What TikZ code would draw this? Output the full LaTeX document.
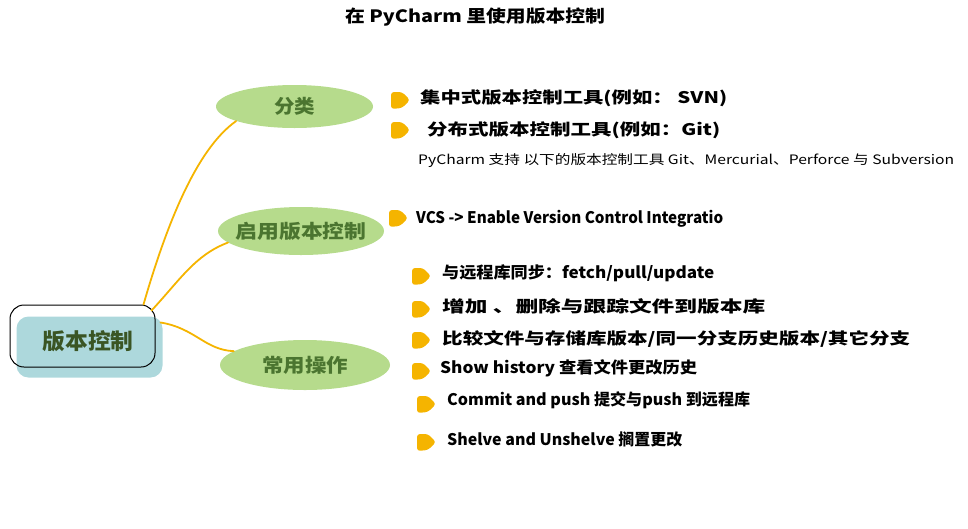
\documentclass[tikz,border=0pt]{standalone}
\usepackage{fontspec}
\usepackage{graphicx}
\setmainfont{Noto Sans CJK SC}
\usetikzlibrary{shapes.geometric,calc,backgrounds}
\definecolor{connorange}{HTML}{F5B400}
\definecolor{leafgreen}{HTML}{B6DB8C}
\definecolor{rootblue}{HTML}{ADD8DC}
\definecolor{branchtext}{HTML}{4B7530}
\definecolor{roottextc}{HTML}{3A5524}
\newcommand\fitw[2]{\resizebox{#1}{\height}{#2}}
\newcommand\nowidth[1]{\makebox[0pt]{#1}}
\tikzset{
  titletxt/.style={font=\bfseries\fontsize{17}{20}\selectfont, inner sep=0pt},
  rootframe/.style={draw=black, line width=1pt, rounded corners=14pt, minimum width=145pt, minimum height=62pt, inner sep=0pt},
  roottxt/.style={font=\bfseries\fontsize{22}{26}\selectfont, text=roottextc, inner sep=0pt},
  branch/.style={ellipse, fill=leafgreen, inner sep=0pt, text=branchtext, font=\bfseries\fontsize{19}{22}\selectfont},
  conn/.style={draw=connorange, line width=1.8pt, line cap=round},
  itemtxt/.style={anchor=west, inner sep=0pt, font=\bfseries\fontsize{16}{19}\selectfont},
  smalltxt/.style={anchor=west, inner sep=0pt, font=\fontsize{13}{15}\selectfont},
  bulletmark/.pic={\fill[connorange, rounded corners=3pt] (-9,-8) -- (2,-8) -- (10,0) -- (2,8) -- (-9,9) -- cycle;}
}
\begin{document}
\begin{tikzpicture}[x=1pt,y=-1pt]
\useasboundingbox (0,0) rectangle (968,528);
% title
\node[titletxt] (title) at (475,17) {\fitw{260pt}{在 PyCharm 里使用版本控制}};
% root
\node[rootframe] (frame) at (82.5,336) {};
\node[roottxt] (root) at (88,341) {\fitw{91pt}{版本控制}};
\begin{scope}[on background layer]
  \fill[rootblue, rounded corners=12pt] ($(frame.north west)+(7,12)$) rectangle ($(frame.south east)+(7,10)$);
\end{scope}
% branches
\node[branch, minimum width=157pt, minimum height=43pt] (fenlei) at (294.5,106.5) {\nowidth{\fitw{41pt}{分类}}};
\node[branch, minimum width=166pt, minimum height=48pt] (qiyong) at (301,231) {\nowidth{\fitw{131pt}{启用版本控制}}};
\node[branch, minimum width=170pt, minimum height=50pt] (changyong) at (305,365) {\nowidth{\fitw{86pt}{常用操作}}};
% connectors
\draw[conn] ($(frame.north east)+(-12,0)$) .. controls (165,230) and (195,150) .. (fenlei.194);
\draw[conn] ($(frame.north east)+(-4,6)$) .. controls (180,280) and (195,255) .. (qiyong.189);
\draw[conn] ($(frame.north east)+(5,18)$) .. controls (195,328) and (205,350) .. (changyong.169);
% bullets
\foreach \bx/\by in {400/100, 400/130, 398/218, 421/276, 421/309, 421/340, 421/371, 426/404, 426/442}
  \pic at (\bx,\by) {bulletmark};
% items
\node[itemtxt] (t1) at (420,98) {\fitw{307pt}{集中式版本控制工具(例如： SVN)}};
\node[itemtxt] (t2) at (427,130) {\fitw{293pt}{分布式版本控制工具(例如：Git)}};
\node[smalltxt] (t3) at (418,161) {\fitw{536pt}{PyCharm 支持 以下的版本控制工具 Git、Mercurial、Perforce 与 Subversion}};
\node[itemtxt] (t4) at (416,219) {\fitw{307pt}{VCS -> Enable Version Control Integratio}};
\node[itemtxt] (t5) at (442,273) {\fitw{272pt}{与远程库同步：fetch/pull/update}};
\node[itemtxt] (t6) at (442,306) {\fitw{323pt}{增加 、删除与跟踪文件到版本库}};
\node[itemtxt] (t7) at (442,339) {\fitw{468pt}{比较文件与存储库版本/同一分支历史版本/其它分支}};
\node[itemtxt] (t8) at (440,368) {\fitw{257pt}{Show history 查看文件更改历史}};
\node[itemtxt] (t9) at (447,400) {\fitw{303pt}{Commit and push 提交与push 到远程库}};
\node[itemtxt] (t10) at (447,439) {\fitw{235pt}{Shelve and Unshelve 搁置更改}};
\end{tikzpicture}
\end{document}
